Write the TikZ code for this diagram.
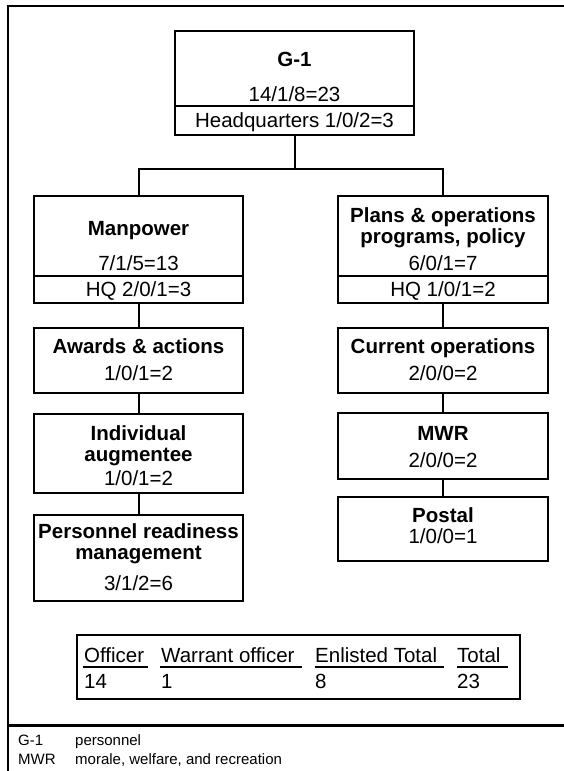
\documentclass[tikz,border=0pt]{standalone}
\usepackage{fontspec}
\setmainfont{Liberation Sans}
\begin{document}
\begin{tikzpicture}[x=1pt,y=-1pt,
  box/.style={draw,line width=2pt,inner sep=0pt,minimum width=#1},
  box/.default=209pt,
  conn/.style={line width=2pt},
  frameline/.style={line width=2.5pt},
  txt/.style={inner sep=0pt,anchor=base,font=\fontsize{20.5}{24}\selectfont},
  btxt/.style={txt,font=\fontsize{20.5}{24}\selectfont\bfseries},
  ltxt/.style={inner sep=0pt,anchor=base west,font=\fontsize{20.5}{24}\selectfont},
  legtxt/.style={inner sep=0pt,anchor=base west,font=\fontsize{15}{18}\selectfont}]
\useasboundingbox (0,0) rectangle (564,771);

% outer frame and legend separator
\draw[frameline] (567,6) -- (8,6) -- (8,773);
\draw[frameline] (8,725.5) -- (567,725.5);

% top box
\node[box=239pt,minimum height=104pt] (g1) at (294.5,83) {};
\draw[conn] (g1.west |- 0,106) -- (g1.east |- 0,106);
\node[btxt] (g1a) at (294.5,66) {G-1};
\node[txt] (g1b) at (294.5,101) {14/1/8=23};
\node[txt] (g1c) at (294.5,127) {Headquarters 1/0/2=3};

% left column
\node[box,minimum height=107pt] (man) at (138.5,249.5) {};
\draw[conn] (man.west |- 0,276) -- (man.east |- 0,276);
\node[btxt] (mana) at (138.5,235) {Manpower};
\node[txt] (manb) at (138.5,270) {7/1/5=13};
\node[txt] (manc) at (138.5,296) {HQ 2/0/1=3};

\node[box,minimum height=65pt] (awd) at (138.5,360.5) {};
\node[btxt] (awda) at (138.5,353) {Awards \& actions};
\node[txt] (awdb) at (138.5,380) {1/0/1=2};

\node[box,minimum height=79pt] (ind) at (138.5,453.5) {};
\node[btxt] (inda) at (138.5,440) {Individual};
\node[btxt] (indb) at (138.5,461) {augmentee};
\node[txt] (indc) at (138.5,485) {1/0/1=2};

\node[box,minimum height=86pt] (prm) at (138.5,558) {};
\node[btxt] (prma) at (138.5,538) {Personnel readiness};
\node[btxt] (prmb) at (138.5,559) {management};
\node[txt] (prmc) at (138.5,590) {3/1/2=6};

% right column
\node[box=210pt,minimum height=107pt] (pln) at (443,249.5) {};
\draw[conn] (pln.west |- 0,276) -- (pln.east |- 0,276);
\node[btxt] (plna) at (443,222) {Plans \& operations};
\node[btxt] (plnb) at (443,243) {programs, policy};
\node[txt] (plnc) at (443,270) {6/0/1=7};
\node[txt] (plnd) at (443,296) {HQ 1/0/1=2};

\node[box=210pt,minimum height=65pt] (cur) at (443,360.5) {};
\node[btxt] (cura) at (443,353) {Current operations};
\node[txt] (curb) at (443,380) {2/0/0=2};

\node[box=210pt,minimum height=66pt] (mwr) at (443,446) {};
\node[btxt] (mwra) at (443,440) {MWR};
\node[txt] (mwrb) at (443,467) {2/0/0=2};

\node[box=210pt,minimum height=64pt] (pst) at (443,529) {};
\node[btxt] (psta) at (443,522) {Postal};
\node[txt] (pstb) at (443,543) {1/0/0=1};

% connectors
\coordinate (busL) at (138.5,169);
\coordinate (busR) at (443,169);
\draw[conn] (g1.south) -- (g1.south |- busL);
\draw[conn] (man.north) -- (busL) -- (busR) -- (pln.north);
\draw[conn] (man.south) -- (awd.north);
\draw[conn] (awd.south) -- (ind.north);
\draw[conn] (ind.south) -- (prm.north);
\draw[conn] (pln.south) -- (cur.north);
\draw[conn] (cur.south) -- (mwr.north);
\draw[conn] (mwr.south) -- (pst.north);

% totals table
\node[box=443pt,minimum height=64pt] (tbl) at (298.5,667) {};
\node[ltxt] (h1) at (84,662) {Officer};
\node[ltxt] (h2) at (161,662) {Warrant officer};
\node[ltxt] (h3) at (315,662) {Enlisted Total};
\node[ltxt] (h4) at (457,662) {Total};
\draw[conn] (83,666.5) -- (148,666.5);
\draw[conn] (160,666.5) -- (302,666.5);
\draw[conn] (315,666.5) -- (444,666.5);
\draw[conn] (457,666.5) -- (508,666.5);
\node[ltxt] (v1) at (84,688) {14};
\node[ltxt] (v2) at (161,688) {1};
\node[ltxt] (v3) at (315,688) {8};
\node[ltxt] (v4) at (457,688) {23};

% legend
\node[legtxt] (k1) at (18,745) {G-1};
\node[legtxt] (d1) at (75,745) {personnel};
\node[legtxt] (k2) at (18,764) {MWR};
\node[legtxt] (d2) at (75,764) {morale, welfare, and recreation};
\end{tikzpicture}
\end{document}
